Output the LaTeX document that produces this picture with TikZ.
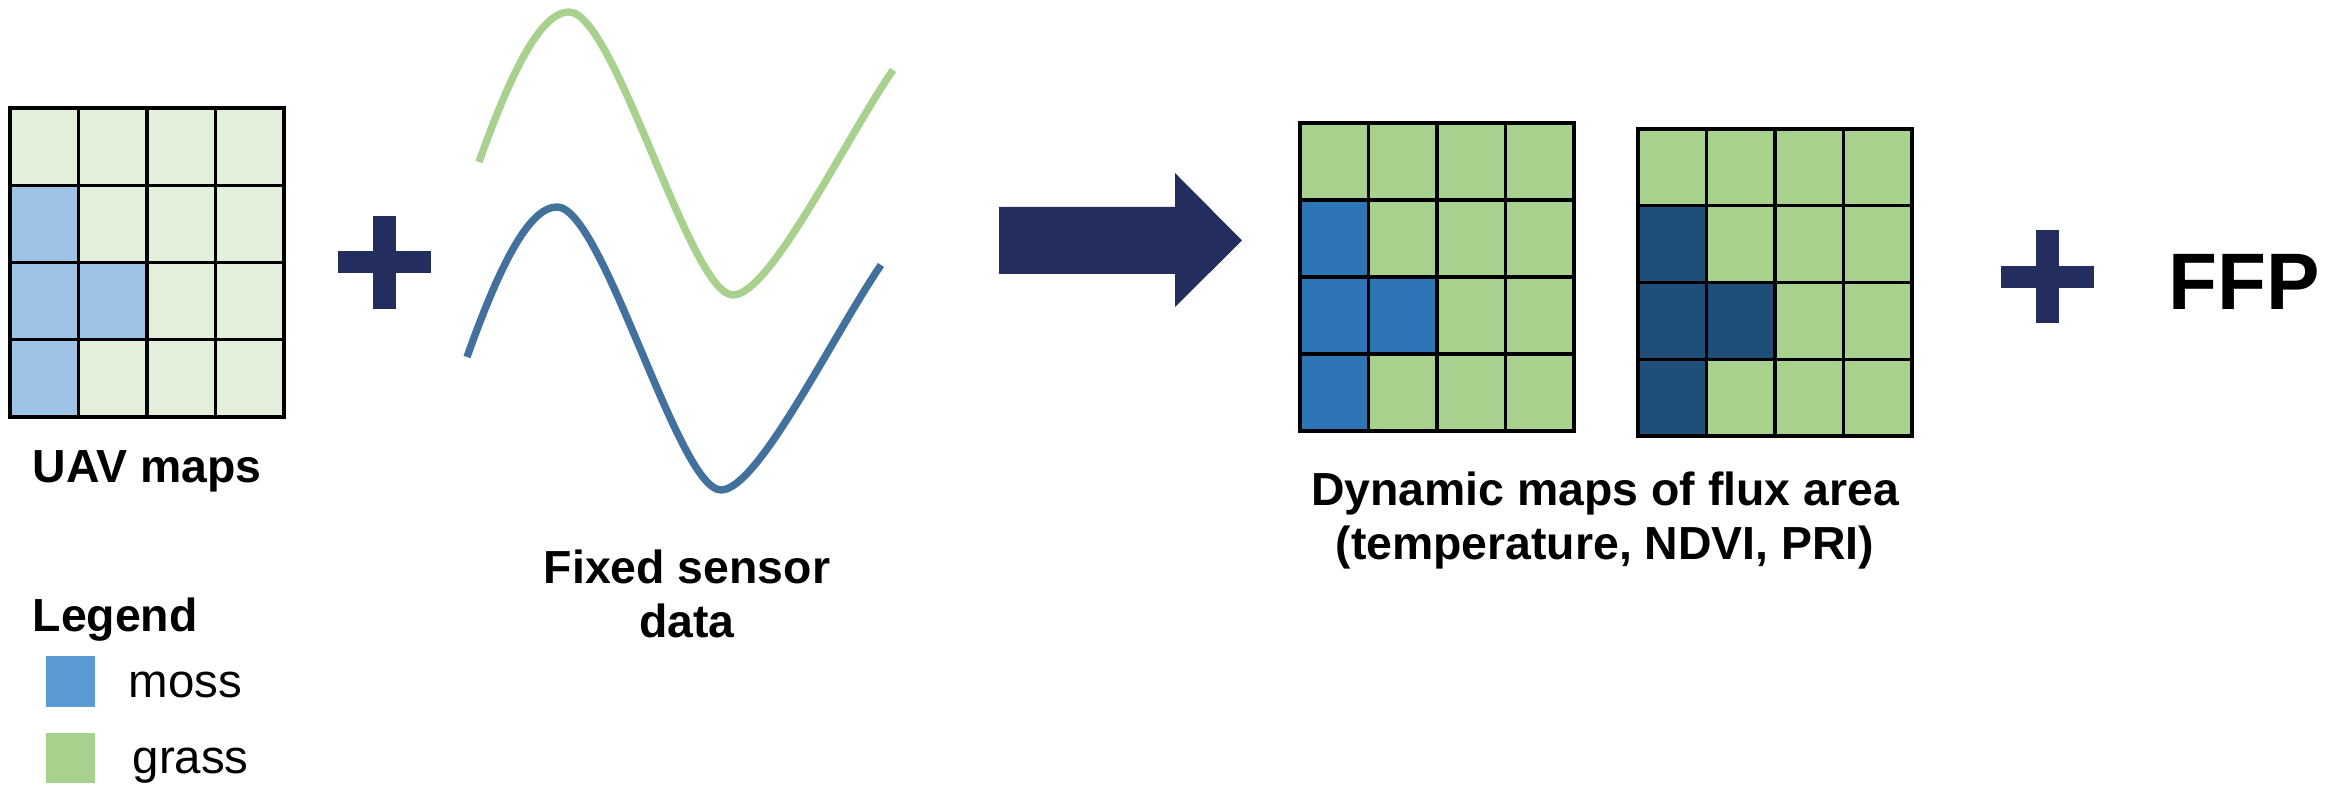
\documentclass[tikz,border=0pt]{standalone}
\usepackage{fontspec}
\setmainfont{Liberation Sans}
\definecolor{uavgrass}{HTML}{E2EFDA}
\definecolor{uavmoss}{HTML}{9DC3E6}
\definecolor{mapgrass}{HTML}{A9D18E}
\definecolor{mapmoss}{HTML}{2E75B6}
\definecolor{mapmossdark}{HTML}{1F4E79}
\definecolor{legmoss}{HTML}{5B9BD5}
\definecolor{sensorblue}{HTML}{41719C}
\definecolor{navy}{HTML}{232E5E}
\tikzset{
  lbl/.style={font=\bfseries\fontsize{13.2}{15.6}\selectfont, inner sep=0pt, align=center},
  legtext/.style={font=\fontsize{13.5}{15.5}\selectfont, inner sep=0pt, anchor=base west},
  gridline/.style={black, line width=0.9pt},
  sensor/.style={line width=2.1pt},
  plussign/.style={fill=navy}
}
\begin{document}
\begin{tikzpicture}
\useasboundingbox (0,0) rectangle (23.49,7.86);
% the three maps: UAV, then two dynamic maps
\foreach \gx/\gy/\gh/\gcol/\mcol in {0.10/3.69/0.7725/uavgrass/uavmoss, 13.00/3.55/0.77/mapgrass/mapmoss, 16.38/3.50/0.7675/mapgrass/mapmossdark}{
  \begin{scope}[shift={(\gx,\gy)}, xscale=0.685, yscale=\gh]
    \fill[\gcol] (0,0) rectangle (4,4);
    \fill[\mcol] (0,0) rectangle (1,3) (1,1) rectangle (2,2);
    \draw[gridline] (0,0) grid (4,4);
    \draw[gridline] (0,0) rectangle (4,4);
  \end{scope}
}
\node[lbl, anchor=base] (uav) at (1.47,3.03) {UAV maps};
% plus signs
\foreach \px/\py in {3.845/5.235, 20.47/5.09} {
  \fill[plussign] (\px-0.115,\py-0.465) rectangle (\px+0.115,\py+0.465);
  \fill[plussign] (\px-0.465,\py-0.11) rectangle (\px+0.465,\py+0.11);
}
% fixed sensor curves (blue one is the green one shifted)
\foreach \dx/\dy/\col in {0/0/mapgrass, -0.12/-1.95/sensorblue}
  \draw[sensor, \col, shift={(\dx,\dy)}] (4.79,6.24) .. controls (5.10,7.11) and (5.40,7.74) .. (5.69,7.74)
    .. controls (6.15,7.74) and (6.90,4.91) .. (7.33,4.91)
    .. controls (7.70,4.91) and (8.45,6.46) .. (8.93,7.16);
% base anchor sits on the last line
\node[lbl, anchor=base] (sensor) at (6.87,1.48) {Fixed sensor\\data};
% big arrow
\fill[navy] (9.99,5.12) -- (11.75,5.12) -- (11.75,4.79) -- (12.42,5.455) -- (11.75,6.13) -- (11.75,5.79) -- (9.99,5.79) -- cycle;
\node[lbl, anchor=base] (dyn) at (16.05,2.26) {Dynamic maps of flux area\\(temperature, NDVI, PRI)};
\node[font=\bfseries\fontsize{22.8}{26}\selectfont, inner sep=0pt, anchor=base west] (ffp) at (21.68,4.76) {FFP};
% legend
\node[lbl, anchor=base west] (legend) at (0.32,1.54) {Legend};
\fill[legmoss] (0.46,0.79) rectangle (0.95,1.30);
\node[legtext] (moss) at (1.28,0.88) {moss};
\fill[mapgrass] (0.46,0.03) rectangle (0.95,0.53);
\node[legtext] (grass) at (1.32,0.12) {grass};
\end{tikzpicture}
\end{document}
